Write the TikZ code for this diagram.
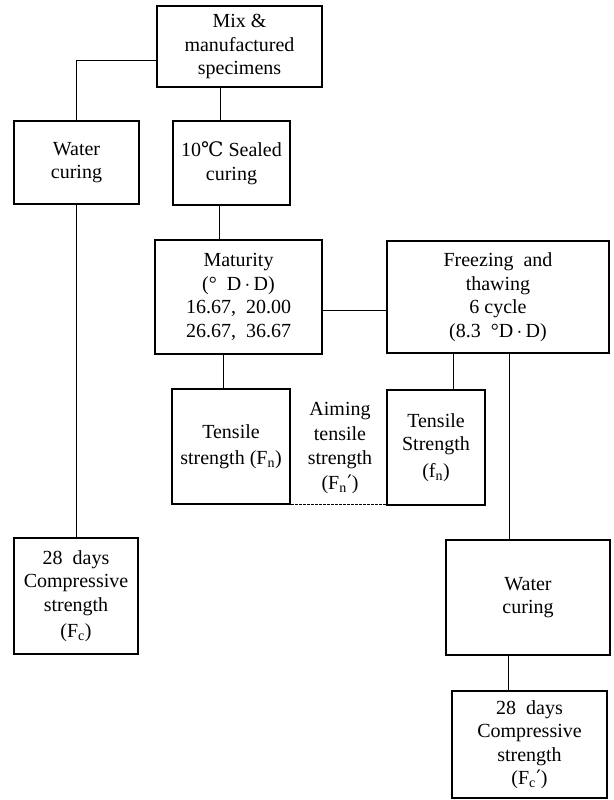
\documentclass[tikz,border=0pt]{standalone}
\usepackage{fontspec}
\setmainfont{Liberation Serif}
\newfontfamily\symfont{DejaVu Serif}
\newcommand{\primemark}{\kern0.5pt{\symfont ′}}
\begin{document}
\begin{tikzpicture}[x=1pt,y=-1pt,
  box/.style={draw, line width=2pt, rectangle, inner sep=0pt, align=center,
    font=\fontsize{20}{23.5}\selectfont},
  conn/.style={line width=0.9pt},
  dashconn/.style={line width=0.9pt, dash pattern=on 2.5pt off 1.5pt},
  lbl/.style={inner sep=0pt, align=center, font=\fontsize{20}{24.5}\selectfont}]
\useasboundingbox (0,0) rectangle (613,800);
\node[box, minimum width=165pt, minimum height=81pt] (mix) at (239.5,46.5) {Mix \&\\manufactured\\specimens};
\node[box, minimum width=125pt, minimum height=83pt] (wc1) at (76.5,162.5) {Water\\curing};
\node[box, minimum width=117pt, minimum height=84pt] (sc) at (231.5,163) {10{\symfont ℃} Sealed\\curing};
\node[box, minimum width=167pt, minimum height=114pt] (mat) at (238.5,297) {Maturity\\(°~~D\,$\cdot$\,D)\\16.67,~~20.00\\26.67,~~36.67};
\node[box, minimum width=222pt, minimum height=112pt] (frz) at (498,297) {Freezing~~and\\thawing\\6 cycle\\(8.3~~°D\,$\cdot$\,D)};
\node[box, minimum width=118pt, minimum height=115pt] (tFn) at (231,446.5) {Tensile\\[3pt]strength~(F\textsubscript{n})};
\node[box, minimum width=98pt, minimum height=115pt] (tfn) at (436,447.5) {Tensile\\Strength\\[3pt](f\textsubscript{n})};
\node[lbl] (aim) at (340,448) {Aiming\\tensile\\strength\\(F\textsubscript{n}\primemark)};
\node[box, minimum width=124pt, minimum height=116pt] (c28a) at (76,596) {28~~days\\Compressive\\strength\\[3pt](F\textsubscript{c})};
\node[box, minimum width=164pt, minimum height=115pt] (wc2) at (528,597.5) {Water\\curing};
\node[box, minimum width=155pt, minimum height=107pt] (c28b) at (529.5,744.5) {28~~days\\Compressive\\strength\\(F\textsubscript{c}\primemark)};
% connectors
\coordinate (k1) at ([yshift=-13.5pt]mix.west);
\draw[conn] (k1) -| (wc1.north);
\draw[conn] ([xshift=-19.5pt]mix.south) -- ([xshift=-19.5pt]mix.south |- sc.north);
\draw[conn] (wc1.south) -- (wc1.south |- c28a.north);
\draw[conn] ([xshift=-12.5pt]sc.south) -- ([xshift=-12.5pt]sc.south |- mat.north);
\draw[conn] ([yshift=-13pt]mat.east) -- ([yshift=-13pt]mat.east -| frz.west);
\draw[conn] ([xshift=-15.5pt]mat.south) -- ([xshift=-15.5pt]mat.south |- tFn.north);
\draw[conn] ([xshift=-45pt]frz.south) -- ([xshift=-45pt]frz.south |- tfn.north);
\draw[conn] ([xshift=11pt]frz.south) -- ([xshift=11pt]frz.south |- wc2.north);
\draw[conn] ([xshift=-20pt]wc2.south) -- ([xshift=-20pt]wc2.south |- c28b.north);
\draw[dashconn] ([yshift=1pt]tFn.south east) -- ([yshift=1pt]tFn.south east -| tfn.west);
\end{tikzpicture}
\end{document}
